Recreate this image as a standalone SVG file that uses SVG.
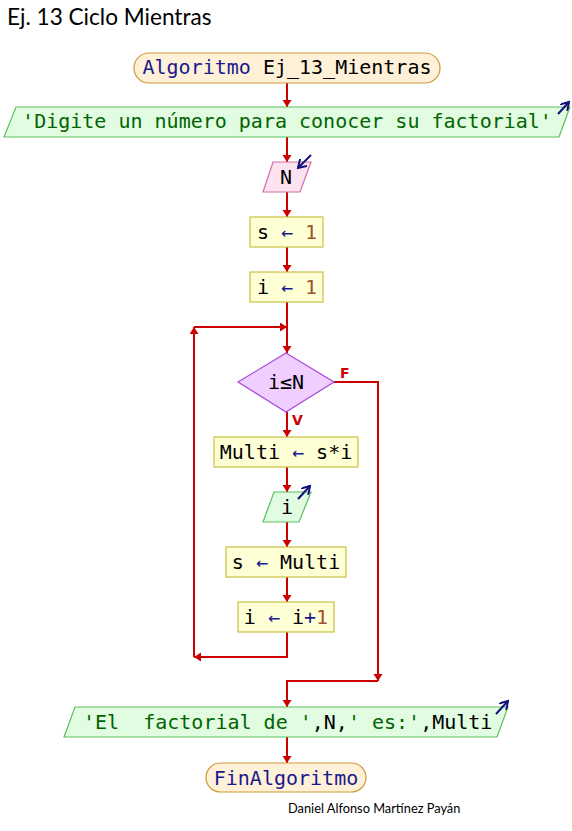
<svg xmlns="http://www.w3.org/2000/svg" width="572" height="831" viewBox="0 0 572 831">
<style>
.mono{font-family:"DejaVu Sans Mono","Liberation Mono",monospace;font-size:20px}
.term{fill:#FFF0D8;stroke:#D09A3A;stroke-width:1.2}
.out{fill:#E2FCE2;stroke:#5CC05C;stroke-width:1.2}
.inp{fill:#FDE2F0;stroke:#D070A8;stroke-width:1.2}
.proc{fill:#FFFFD6;stroke:#C8C040;stroke-width:1.2}
.dec{fill:#F0CEFF;stroke:#A848D8;stroke-width:1.2}
.flow{fill:none;stroke:#CC0000;stroke-width:2}
.io{fill:none;stroke:#10107A;stroke-width:2}
.kw{fill:#1A1A8C}
.txt{fill:#000000}
.str{fill:#006400}
.num{fill:#A0522D}
.lbl{font-family:"DejaVu Sans","Liberation Sans",sans-serif;font-size:14px;font-weight:bold;fill:#CC0000}
</style>
<defs>
<marker id="ah" markerUnits="userSpaceOnUse" markerWidth="10" markerHeight="10" refX="7" refY="4.5" orient="auto">
<path d="M0,0 L7,4.5 L0,9 z" fill="#CC0000"/>
</marker>
<marker id="bh" markerUnits="userSpaceOnUse" markerWidth="10" markerHeight="10" refX="8" refY="5" orient="auto">
<path d="M0,0 L8,5 L0,10" fill="none" stroke="#10107A" stroke-width="2"/>
</marker>
</defs>
<rect width="572" height="831" fill="#FFFFFF"/>
<text x="7" y="25" font-family="Lato,'Open Sans',sans-serif" font-size="22.6" fill="#000">Ej. 13 Ciclo Mientras</text>

<g id="connectors">
<line class="flow" x1="287" y1="83" x2="287" y2="107" marker-end="url(#ah)"/>
<line class="flow" x1="287" y1="137" x2="287" y2="162" marker-end="url(#ah)"/>
<line class="flow" x1="287" y1="192" x2="287" y2="217" marker-end="url(#ah)"/>
<line class="flow" x1="287" y1="247" x2="287" y2="272" marker-end="url(#ah)"/>
<line class="flow" x1="287" y1="302" x2="287" y2="353" marker-end="url(#ah)"/>
<line class="flow" x1="287" y1="412" x2="287" y2="437" marker-end="url(#ah)"/>
<line class="flow" x1="287" y1="467" x2="287" y2="492" marker-end="url(#ah)"/>
<line class="flow" x1="287" y1="522" x2="287" y2="547" marker-end="url(#ah)"/>
<line class="flow" x1="287" y1="577" x2="287" y2="602" marker-end="url(#ah)"/>
<polyline class="flow" points="287,632 287,657 194,657" marker-end="url(#ah)"/>
<line class="flow" x1="194" y1="657" x2="194" y2="327" marker-end="url(#ah)"/>
<line class="flow" x1="194" y1="327" x2="287" y2="327" marker-end="url(#ah)"/>
<polyline class="flow" points="334,382 378,382 378,681" marker-end="url(#ah)"/>
<polyline class="flow" points="378,681 287,681 287,707" marker-end="url(#ah)"/>
<line class="flow" x1="287" y1="737" x2="287" y2="763" marker-end="url(#ah)"/>
<text class="lbl" x="340" y="378">F</text>
<text class="lbl" x="292" y="425">V</text>
</g>

<g id="start">
<rect class="term" x="134" y="53" width="306" height="30" rx="15" ry="15"/>
<text class="mono" x="287" y="74" text-anchor="middle"><tspan class="kw">Algoritmo</tspan><tspan class="txt"> Ej_13_Mientras</tspan></text>
</g>

<g id="out1">
<polygon class="out" points="16,107 570,107 559,137 4,137"/>
<text class="mono str" x="287" y="128" text-anchor="middle">'Digite un número para conocer su factorial'</text>
<line class="io" x1="558" y1="114" x2="569" y2="102" marker-end="url(#bh)"/>
</g>

<g id="inN">
<polygon class="inp" points="273,162 311,162 300,192 263,192"/>
<text class="mono txt" x="286" y="184" text-anchor="middle">N</text>
<line class="io" x1="311" y1="155" x2="298" y2="168" marker-end="url(#bh)"/>
</g>

<g id="s1">
<rect class="proc" x="250" y="217" width="73" height="30"/>
<text class="mono" x="287" y="239" text-anchor="middle"><tspan class="txt">s</tspan><tspan class="kw"> ← </tspan><tspan class="num">1</tspan></text>
</g>

<g id="i1">
<rect class="proc" x="250" y="272" width="73" height="30"/>
<text class="mono" x="287" y="294" text-anchor="middle"><tspan class="txt">i</tspan><tspan class="kw"> ← </tspan><tspan class="num">1</tspan></text>
</g>

<g id="cond">
<polygon class="dec" points="286,353 334,382 286,412 238,382"/>
<text class="mono txt" x="286" y="389" text-anchor="middle">i≤N</text>
</g>

<g id="multi">
<rect class="proc" x="214" y="437" width="144" height="30"/>
<text class="mono" x="286" y="459" text-anchor="middle"><tspan class="txt">Multi</tspan><tspan class="kw"> ← </tspan><tspan class="txt">s*i</tspan></text>
</g>

<g id="outi">
<polygon class="out" points="274,492 311,492 299,522 263,522"/>
<text class="mono txt" x="287" y="514" text-anchor="middle">i</text>
<line class="io" x1="298" y1="499" x2="310" y2="486" marker-end="url(#bh)"/>
</g>

<g id="sMulti">
<rect class="proc" x="226" y="547" width="120" height="30"/>
<text class="mono" x="286" y="569" text-anchor="middle"><tspan class="txt">s</tspan><tspan class="kw"> ← </tspan><tspan class="txt">Multi</tspan></text>
</g>

<g id="inc">
<rect class="proc" x="238" y="602" width="96" height="30"/>
<text class="mono" x="286" y="624" text-anchor="middle"><tspan class="txt">i</tspan><tspan class="kw"> ← </tspan><tspan class="txt">i</tspan><tspan class="kw">+</tspan><tspan class="num">1</tspan></text>
</g>

<g id="out2">
<polygon class="out" points="75,707 508,707 497,737 64,737"/>
<text class="mono" x="83" y="729" xml:space="preserve"><tspan class="str">'El  factorial de '</tspan><tspan class="txt">,N,</tspan><tspan class="str">' es:'</tspan><tspan class="txt">,Multi</tspan></text>
<line class="io" x1="496" y1="714" x2="508" y2="701" marker-end="url(#bh)"/>
</g>

<g id="end">
<rect class="term" x="206" y="763" width="160" height="29" rx="14.5" ry="14.5"/>
<text class="mono kw" x="286" y="785" text-anchor="middle">FinAlgoritmo</text>
</g>

<text x="288" y="813" font-family="Lato,'Open Sans',sans-serif" font-size="12.8" fill="#000">Daniel Alfonso Martínez Payán</text>
</svg>
